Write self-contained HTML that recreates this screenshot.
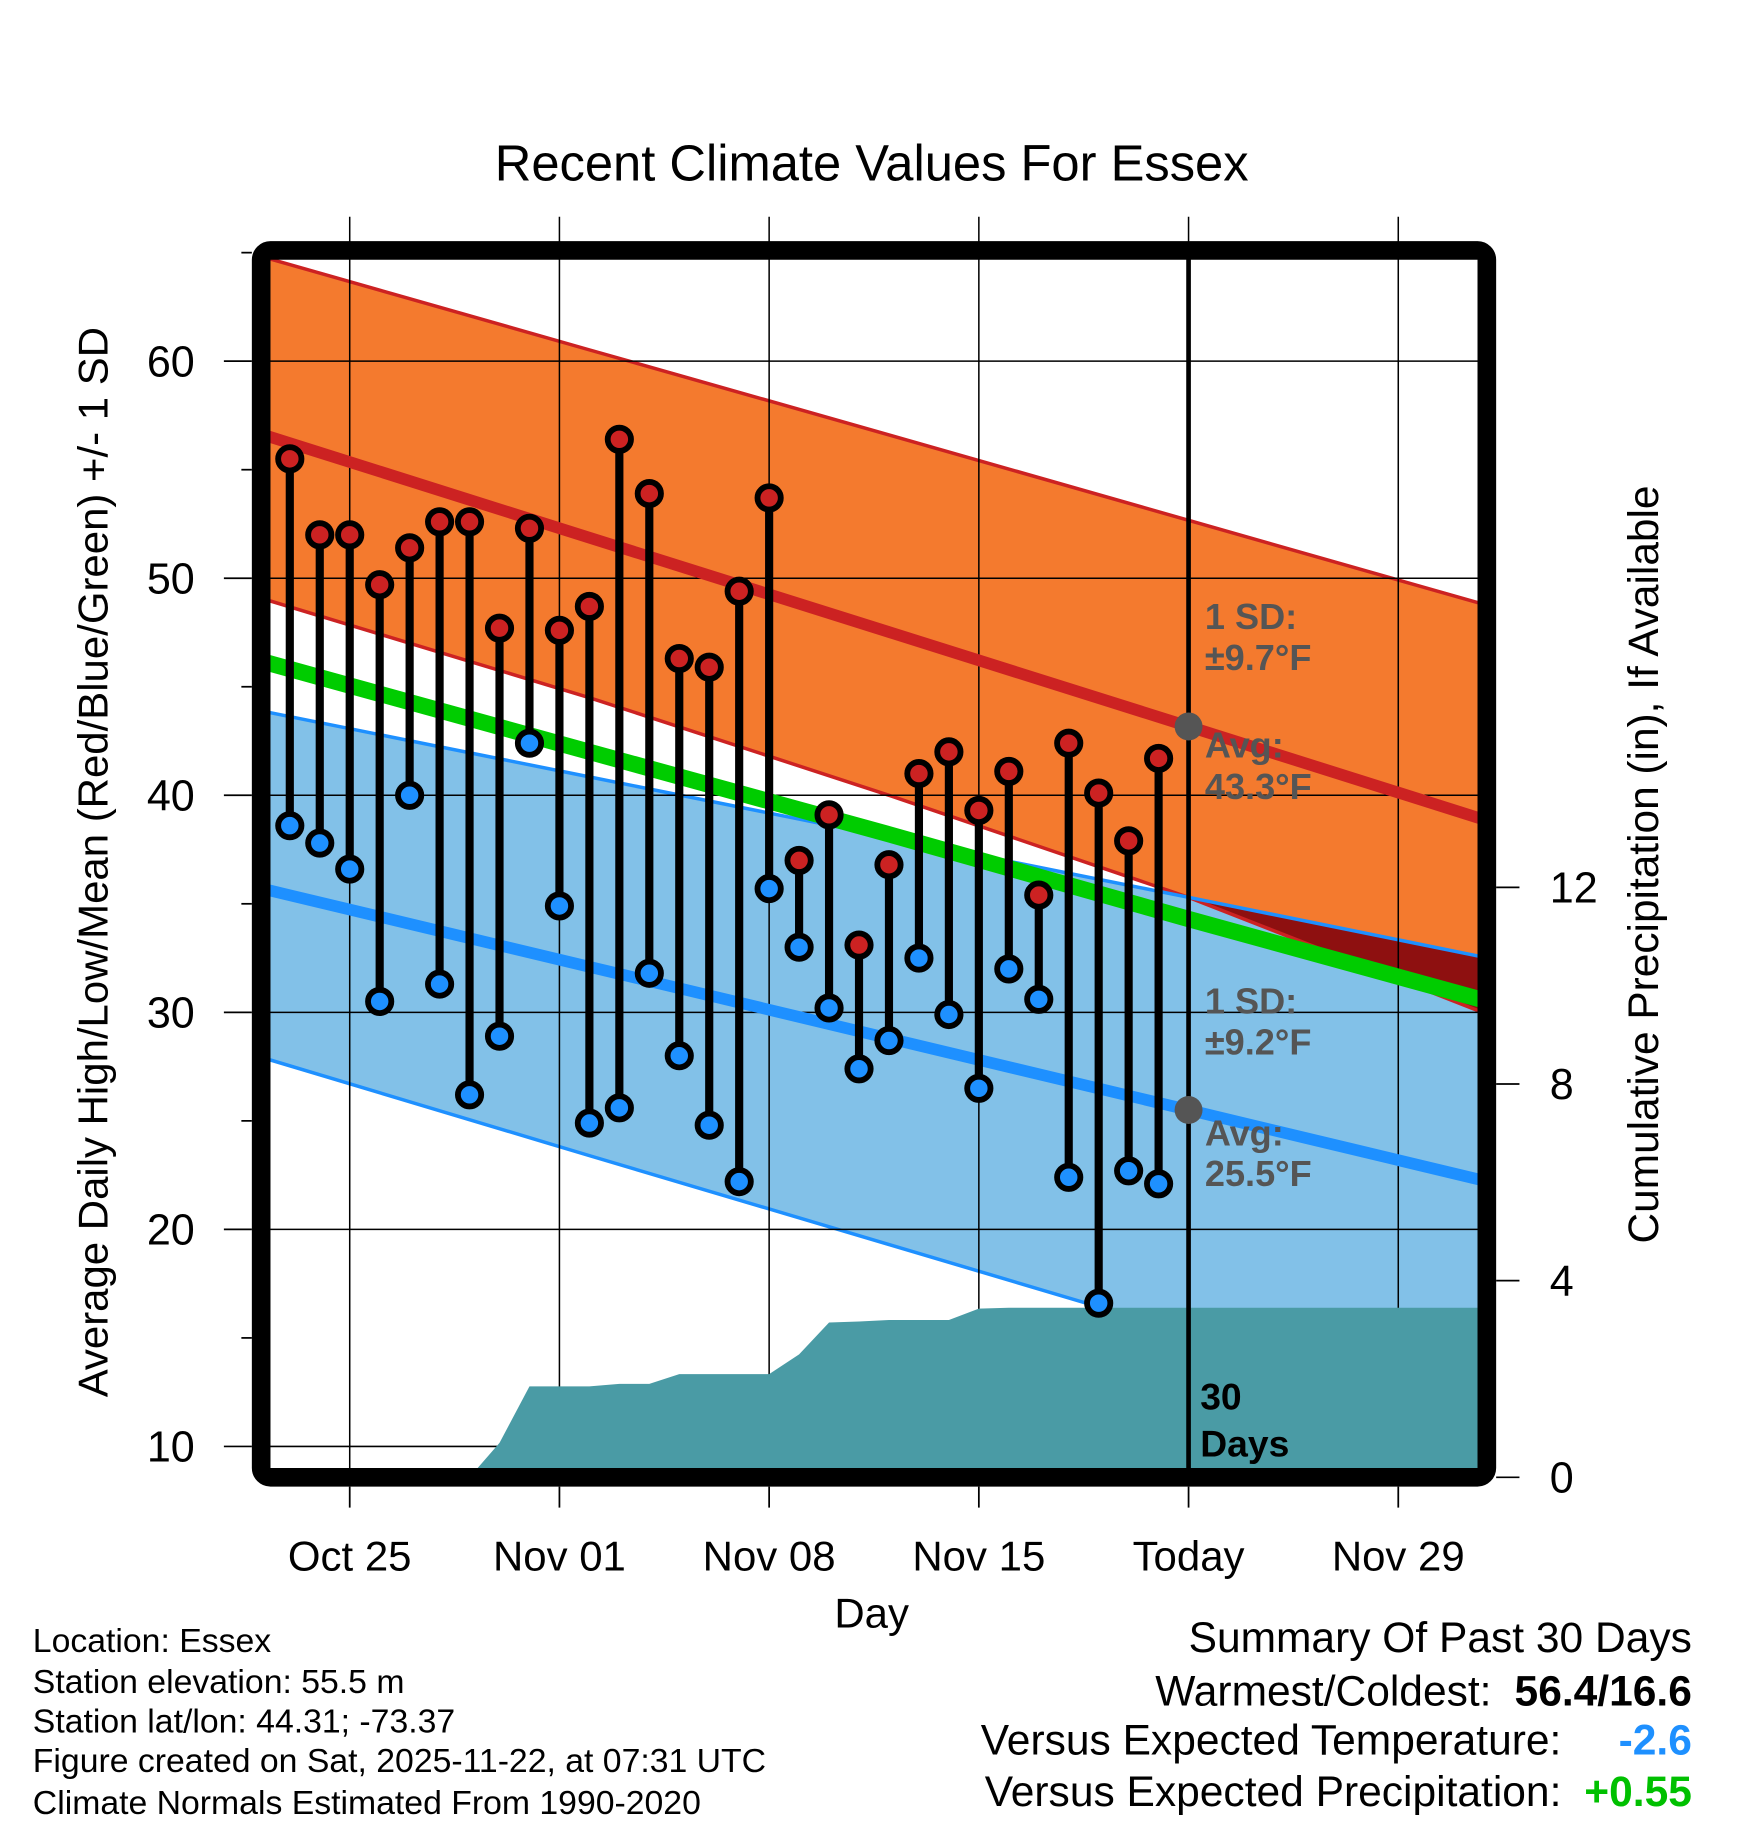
<!DOCTYPE html>
<html><head><meta charset="utf-8"><style>
html,body{margin:0;padding:0;background:#fff}
svg{display:block;font-family:"Liberation Sans",sans-serif}
</style></head><body>
<svg id="chart" width="1748" height="1828" viewBox="0 0 1500 1569" xmlns="http://www.w3.org/2000/svg">
<defs><clipPath id="plotclip"><rect x="232" y="222" width="1036" height="1038"/></clipPath></defs>
<g id="bands" clip-path="url(#plotclip)"></g>
<g id="grid"></g>
<g id="normals" clip-path="url(#plotclip)"></g>
<g id="precip" clip-path="url(#plotclip)"></g>
<g id="annot"></g>
<g id="marks"></g>
<rect x="224" y="215" width="1052" height="1053" rx="8" fill="none" stroke="#000" stroke-width="16"/>
<g id="axes"></g>
<text x="748" y="155" font-size="43.5" text-anchor="middle">Recent Climate Values For Essex</text>
<text x="748" y="1397" font-size="36" text-anchor="middle">Day</text>
<text transform="translate(92,740) rotate(-90)" font-size="36" text-anchor="middle">Average Daily High/Low/Mean (Red/Blue/Green) +/- 1 SD</text>
<text transform="translate(1423,742) rotate(-90)" font-size="36.4" text-anchor="middle">Cumulative Precipitation (in), If Available</text>
<g font-size="29">
<text x="28" y="1418">Location: Essex</text>
<text x="28" y="1453">Station elevation: 55.5 m</text>
<text x="28" y="1487">Station lat/lon: 44.31; -73.37</text>
<text x="28" y="1521">Figure created on Sat, 2025-11-22, at 07:31 UTC</text>
<text x="28" y="1557">Climate Normals Estimated From 1990-2020</text>
</g>
<g font-size="36.5">
<text x="1452" y="1418" text-anchor="end">Summary Of Past 30 Days</text>
<text x="1280" y="1464" text-anchor="end">Warmest/Coldest:</text>
<text x="1452" y="1464" text-anchor="end" font-weight="bold">56.4/16.6</text>
<text x="1340" y="1506" text-anchor="end">Versus Expected Temperature:</text>
<text x="1452" y="1506" text-anchor="end" font-weight="bold" fill="#1E90FF">-2.6</text>
<text x="1340" y="1550" text-anchor="end">Versus Expected Precipitation:</text>
<text x="1452" y="1550" text-anchor="end" font-weight="bold" fill="#00C000">+0.55</text>
</g>
</svg>
<script>
// Data (day offsets from Oct 25)
const obsDays = [-2,-1,0,1,2,3,4,5,6,7,8,9,10,11,12,13,14,15,16,17,18,19,20,21,22,23,24,25,26,27];
const highs = [55.5,52.0,52.0,49.7,51.4,52.6,52.6,47.7,52.3,47.6,48.7,56.4,53.9,46.3,45.9,49.4,53.7,37.0,39.1,33.1,36.8,41.0,42.0,39.3,41.1,35.4,42.4,40.1,37.9,41.7];
const lows = [38.6,37.8,36.6,30.5,40.0,31.3,26.2,28.9,42.4,34.9,24.9,25.6,31.8,28.0,24.8,22.2,35.7,33.0,30.2,27.4,28.7,32.5,29.9,26.5,32.0,30.6,22.4,16.6,22.7,22.1];
const precipCum = [0,0,0,0,0,0,0,0.7,1.85,1.85,1.85,1.9,1.9,2.1,2.1,2.1,2.1,2.5,3.15,3.17,3.2,3.2,3.2,3.43,3.45,3.45,3.45,3.45,3.45,3.45];
const normDays = [-3,8,18,28,38];
const normHigh = [56.66,51.87,47.52,43.17,38.82];
const highUpper = [64.84,60.52,56.6,52.67,48.74];
const highLower = [49.1,44.5,40.0,35.3,29.9];
const normLow = [35.72,32.1,28.8,25.5,22.2];
const lowUpper = [43.9,40.85,38.07,35.3,32.5];
const lowLower = [27.95,23.4,19.3,15.2,11.1];
const normMean = [46.2,42.0,38.2,34.3,30.5];
const yTicks = [10,20,30,40,50,60];
const y2Ticks = [0,4,8,12];
const xTickDays = [0,7,14,21,28,35];
const xTickLabels = ["Oct 25","Nov 01","Nov 08","Nov 15","Today","Nov 29"];

(function(){
const NS="http://www.w3.org/2000/svg";
const X = d => 300 + d*25.714;
const Y = v => 310 + (60-v)*18.63;
const Y2 = p => 1268 - p*42.2;
function mk(tag, attrs, parent){const el=document.createElementNS(NS,tag);for(const k in attrs)el.setAttribute(k,attrs[k]);parent.appendChild(el);return el;}
const G = id => document.getElementById(id);
function pts(days, vals){return days.map((d,i)=>X(d).toFixed(1)+','+Y(vals[i]).toFixed(1));}
function band(up, lo){return pts(normDays,up).concat(pts(normDays,lo).reverse()).join(' ');}
function interp(arr, d){for(let i=0;i<normDays.length-1;i++){if(d<=normDays[i+1]){const t=(d-normDays[i])/(normDays[i+1]-normDays[i]);return arr[i]+t*(arr[i+1]-arr[i]);}}return arr[arr.length-1];}

const bands=G('bands');
let e=mk('polygon',{points:band(highUpper,highLower),fill:'#F47A2E'},bands);


e=mk('polygon',{points:band(lowUpper,lowLower),fill:'#82C1E8'},bands);


let upArr=[],loArr=[];
for(let d=-3; d<=38; d+=0.25){const a=interp(lowUpper,d),b=interp(highLower,d);if(a>b){upArr.push(X(d)+','+Y(a));loArr.push(X(d)+','+Y(b));}}
if(upArr.length){e=mk('polygon',{points:upArr.concat(loArr.reverse()).join(' '),fill:'#8E1010'},bands);

}
[[highUpper,'#CC2222',3,'high-upper-line'],[highLower,'#CC2222',3,'high-lower-line'],[lowUpper,'#1E90FF',3,'low-upper-line'],[lowLower,'#1E90FF',3,'low-lower-line']].forEach(([arr,c,w,n])=>{
 e=mk('polyline',{points:pts(normDays,arr).join(' '),fill:'none',stroke:c,'stroke-width':w},bands);
 
 
});

const grid=G('grid');
yTicks.forEach(v=>{e=mk('line',{x1:232,x2:1268,y1:Y(v),y2:Y(v),stroke:'#000','stroke-width':1.3},grid);

});
xTickDays.forEach(d=>{e=mk('line',{x1:X(d),x2:X(d),y1:186,y2:1260,stroke:'#000','stroke-width':1.3},grid);

});

const nm=G('normals');
[[normHigh,'#CC2222',10,'normal-high-line'],[normLow,'#1E90FF',10,'normal-low-line'],[normMean,'#00CC00',14,'normal-mean-line']].forEach(([arr,c,w,n])=>{
 e=mk('polyline',{points:pts(normDays,arr).join(' '),fill:'none',stroke:c,'stroke-width':w},nm);
 
 
});

const pr=G('precip');
let pp=[X(obsDays[0])+','+Y2(0)];
obsDays.forEach((d,i)=>pp.push(X(d)+','+Y2(precipCum[i])));
pp.push('1280,'+Y2(precipCum[precipCum.length-1]));pp.push('1280,'+Y2(0));
e=mk('polygon',{points:pp.join(' '),fill:'#4A9BA5'},pr);



const an=G('annot');
e=mk('line',{x1:X(28),x2:X(28),y1:222,y2:1260,stroke:'#000','stroke-width':4},an);


e=mk('circle',{cx:X(28),cy:Y(interp(normHigh,28)),r:12,fill:'#555'},an);


e=mk('circle',{cx:X(28),cy:Y(interp(normLow,28)),r:12,fill:'#555'},an);


[["1 SD:",540],["±9.7°F",575],["Avg:",650],["43.3°F",686],["1 SD:",870],["±9.2°F",905],["Avg:",983],["25.5°F",1018]].forEach(([t,y])=>{
 e=mk('text',{x:1034,y:y,'font-size':31,'font-weight':'bold',fill:'#555'},an);e.textContent=t;
 
 
});
[["30",1210],["Days",1250]].forEach(([t,y])=>{
 e=mk('text',{x:1030,y:y,'font-size':32,'font-weight':'bold',fill:'#000'},an);e.textContent=t;
 
 
});

const mg=G('marks');
obsDays.forEach((d,i)=>{
 e=mk('line',{x1:X(d),x2:X(d),y1:Y(highs[i]),y2:Y(lows[i]),stroke:'#000','stroke-width':7},mg);
 
 
});
obsDays.forEach((d,i)=>{
 e=mk('circle',{cx:X(d),cy:Y(highs[i]),r:10,fill:'#CC2222',stroke:'#000','stroke-width':5},mg);
 
 
 e=mk('circle',{cx:X(d),cy:Y(lows[i]),r:10,fill:'#1E90FF',stroke:'#000','stroke-width':5},mg);
 
 
});

const ax=G('axes');
for(let v=10; v<=65; v+=5){const major=v%10===0;
 e=mk('line',{x1:major?192:207,x2:216,y1:Y(v),y2:Y(v),stroke:'#000','stroke-width':1.5},ax);
 
 }
yTicks.forEach(v=>{e=mk('text',{x:167,y:Y(v)+13,'font-size':37,'text-anchor':'end'},ax);e.textContent=v;
 
 });
y2Ticks.forEach(p=>{e=mk('line',{x1:1284,x2:1304,y1:Y2(p),y2:Y2(p),stroke:'#000','stroke-width':1.5},ax);
 
 
 e=mk('text',{x:1330,y:Y2(p)+13,'font-size':37},ax);e.textContent=p;
 
 });
xTickDays.forEach((d,i)=>{e=mk('line',{x1:X(d),x2:X(d),y1:1276,y2:1294,stroke:'#000','stroke-width':1.5},ax);
 
 
 e=mk('text',{x:X(d),y:1348,'font-size':36,'text-anchor':'middle'},ax);e.textContent=xTickLabels[i];
 
 });
})();
</script>
</body></html>
